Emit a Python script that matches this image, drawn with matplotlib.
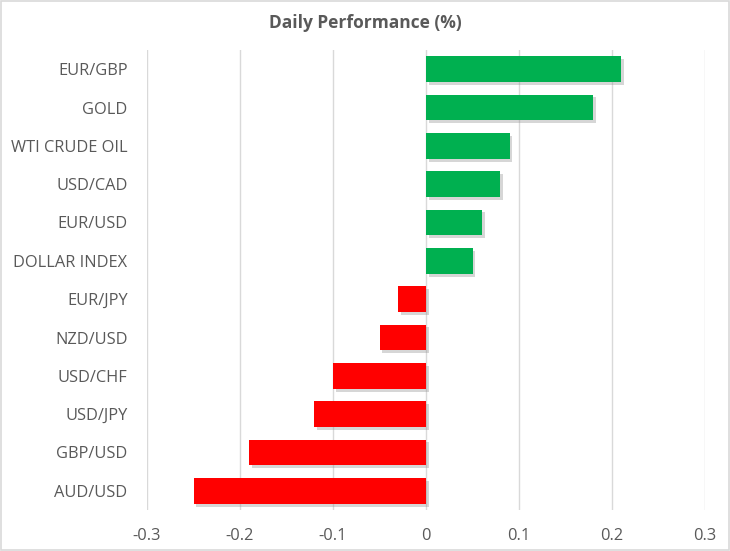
import matplotlib
matplotlib.use("Agg")
import matplotlib.pyplot as plt
import matplotlib.patheffects as pe
from matplotlib.patches import Rectangle

# data, top to bottom as in the chart
labels = ["EUR/GBP", "GOLD", "WTI CRUDE OIL", "USD/CAD", "EUR/USD", "DOLLAR INDEX",
          "EUR/JPY", "NZD/USD", "USD/CHF", "USD/JPY", "GBP/USD", "AUD/USD"]
values = [0.21, 0.18, 0.09, 0.08, 0.06, 0.05,
          -0.03, -0.05, -0.10, -0.12, -0.19, -0.25]
x_ticks = [-0.3, -0.2, -0.1, 0, 0.1, 0.2, 0.3]
x_tick_labels = ["-0.3", "-0.2", "-0.1", "0", "0.1", "0.2", "0.3"]

green = "#00B050"
red = "#FF0000"
text_col = "#595959"
grid_col = "#D9D9D9"

plt.rcParams["font.family"] = ["Open Sans", "DejaVu Sans"]

fig = plt.figure(figsize=(7.3, 5.51), dpi=100)
ax = fig.add_axes([147 / 730, 41 / 551, 558 / 730, 460 / 551])

# -----------------------------------
# bars
# -----------------------------------
pos = list(range(len(labels)))[::-1]
colors = [green if v >= 0 else red for v in values]
bars = ax.barh(pos, values, height=0.676, color=colors, zorder=3)
for b in bars:
    b.set_path_effects([pe.SimplePatchShadow(offset=(2, -2), shadow_rgbFace="#8c8c8c", alpha=0.35),
                        pe.Normal()])

ax.set_xlim(-0.3, 0.3)
ax.set_ylim(-0.5, len(labels) - 0.5)
ax.set_xticks(x_ticks)
ax.set_xticklabels(x_tick_labels)
ax.set_yticks(pos)
ax.set_yticklabels(labels)

ax.tick_params(axis="both", length=0, labelsize=11.8, colors=text_col)
ax.tick_params(axis="y", pad=14)
ax.tick_params(axis="x", pad=13)

ax.grid(axis="x", color=grid_col, linewidth=1.0, zorder=0)
ax.set_axisbelow(True)
for s in ax.spines.values():
    s.set_visible(False)

fig.text(0.5, 1 - 23 / 551, "Daily Performance (%)", ha="center", va="center",
         fontsize=12.5, fontweight="bold", color=text_col)

# chart border
fig.patches.append(Rectangle((0.001, 0.001), 0.997, 0.997, transform=fig.transFigure,
                             fill=False, edgecolor=grid_col, linewidth=1.2))

fig.savefig("out.png", dpi=100)
